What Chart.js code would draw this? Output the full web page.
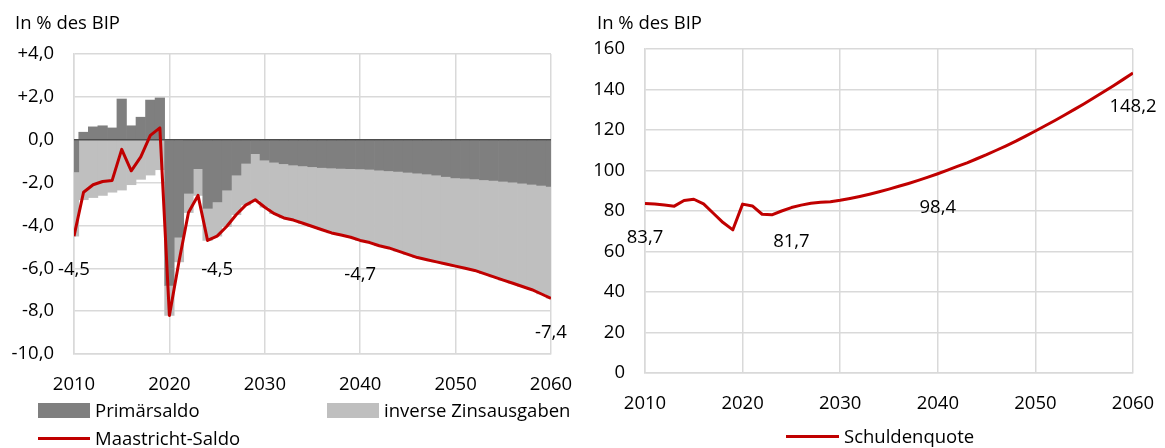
<!DOCTYPE html>
<html lang="de">
<head>
<meta charset="utf-8">
<title>Maastricht-Saldo und Schuldenquote</title>
<script src="https://cdn.jsdelivr.net/npm/chart.js@4.4.1/dist/chart.umd.min.js"></script>
<style>
  html, body { margin: 0; padding: 0; background: #fff; }
  body { width: 1165px; height: 448px; position: relative; overflow: hidden;
         font-family: 'Open Sans', sans-serif; font-size: 18.5px; color: #000; }
  canvas { position: absolute; top: 0; }
  #left-chart { left: 0; }
  #right-chart { left: 580px; }
  .chart-title { position: absolute; top: 13px; line-height: 1; white-space: nowrap; }
  .legend-item { position: absolute; display: flex; align-items: center; white-space: nowrap; line-height: 1; }
  .swatch { display: inline-block; width: 52px; margin-right: 5px; }
  .swatch.box { height: 15px; }
  .swatch.line { height: 3px; }
</style>
</head>
<body>
<canvas id="left-chart" width="580" height="448"></canvas>
<canvas id="right-chart" width="585" height="448"></canvas>

<div class="chart-title" style="left:15px">In % des BIP</div>
<div class="chart-title" style="left:597px">In % des BIP</div>

<div class="legend-item" style="left:38px; top:401px"><span class="swatch box" style="background:#7f7f7f"></span>Primärsaldo</div>
<div class="legend-item" style="left:327px; top:401px"><span class="swatch box" style="background:#bfbfbf"></span>inverse Zinsausgaben</div>
<div class="legend-item" style="left:38px; top:429px"><span class="swatch line" style="background:#c00000"></span>Maastricht-Saldo</div>
<div class="legend-item" style="left:786px; top:427px"><span class="swatch line" style="background:#c00000; width:53px"></span>Schuldenquote</div>

<script>
// --- Data ---
const years = [
  2010, 2011, 2012, 2013, 2014, 2015, 2016, 2017, 2018, 2019,
  2020, 2021, 2022, 2023, 2024, 2025, 2026, 2027, 2028, 2029,
  2030, 2031, 2032, 2033, 2034, 2035, 2036, 2037, 2038, 2039,
  2040, 2041, 2042, 2043, 2044, 2045, 2046, 2047, 2048, 2049,
  2050, 2051, 2052, 2053, 2054, 2055, 2056, 2057, 2058, 2059, 2060
]

// in % des BIP
const primaersaldo = [
  -1.5, 0.35, 0.6, 0.65, 0.55, 1.9, 0.65, 1.05, 1.85, 1.95,
  -6.8, -4.55, -2.5, -1.35, -3.2, -2.9, -2.35, -1.65, -1.1, -0.65,
  -0.95, -1.05, -1.12, -1.18, -1.22, -1.26, -1.3, -1.32, -1.34, -1.35,
  -1.36, -1.38, -1.42, -1.45, -1.48, -1.52, -1.56, -1.6, -1.65, -1.72,
  -1.78, -1.8, -1.83, -1.87, -1.9, -1.94, -1.98, -2.03, -2.08, -2.13, -2.18
]

const zinsausgaben = [
  -3.0, -2.8, -2.7, -2.6, -2.45, -2.35, -2.1, -1.85, -1.65, -1.4,
  -1.4, -1.15, -0.9, -1.25, -1.5, -1.6, -1.7, -1.85, -1.95, -2.15,
  -2.2, -2.4, -2.53, -2.57, -2.68, -2.79, -2.9, -3.03, -3.11, -3.2,
  -3.34, -3.42, -3.53, -3.6, -3.72, -3.83, -3.94, -4.0, -4.05, -4.08,
  -4.12, -4.2, -4.27, -4.38, -4.5, -4.61, -4.72, -4.82, -4.92, -5.07, -5.22
]

const maastrichtSaldo = [
  -4.5, -2.45, -2.1, -1.95, -1.9, -0.45, -1.45, -0.8, 0.2, 0.55,
  -8.2, -5.7, -3.4, -2.6, -4.7, -4.5, -4.05, -3.5, -3.05, -2.8,
  -3.15, -3.45, -3.65, -3.75, -3.9, -4.05, -4.2, -4.35, -4.45, -4.55,
  -4.7, -4.8, -4.95, -5.05, -5.2, -5.35, -5.5, -5.6, -5.7, -5.8,
  -5.9, -6.0, -6.1, -6.25, -6.4, -6.55, -6.7, -6.85, -7.0, -7.2, -7.4
]

const schuldenquote = [
  83.7, 83.5, 83.0, 82.4, 85.2, 85.8, 83.5, 78.9, 74.3, 70.7,
  83.4, 82.5, 78.4, 78.1, 80.0, 81.7, 82.9, 83.8, 84.3, 84.6,
  85.3, 86.2, 87.2, 88.3, 89.5, 90.8, 92.2, 93.6, 95.1, 96.7,
  98.4, 100.2, 102.0, 103.8, 105.8, 107.8, 110.0, 112.2, 114.5, 117.0,
  119.5, 122.1, 124.7, 127.4, 130.2, 133.0, 135.9, 138.9, 141.9, 145.0, 148.2
]

// years that carry a value label
const saldoLabelYears = [2010, 2025, 2040, 2060]
const quoteLabelYears = [2010, 2025, 2040, 2060]

// --- Helpers ---
const FONT = "'Open Sans', sans-serif"
const FONT_SIZE = 18.5
const GRID = '#d9d9d9'
const RED = '#c00000'

const toPoints = (vals) => years.map((yr, i) => ({ x: yr, y: vals[i] }))
const fmt = (v) => v.toFixed(1).replace('.', ',')

Chart.defaults.font.family = FONT
Chart.defaults.font.size = FONT_SIZE
Chart.defaults.color = '#000'

// value labels under selected points
const pointLabels = {
  id: 'pointLabels',
  afterDatasetsDraw(chart, args, opts) {
    const { ctx, scales } = chart
    const ds = chart.data.datasets[opts.dataset]
    ctx.save()
    ctx.font = `${FONT_SIZE}px ${FONT}`
    ctx.fillStyle = '#000'
    ctx.textAlign = 'center'
    ctx.textBaseline = 'middle'
    opts.years.forEach(yr => {
      const pt = ds.data.find(d => d.x === yr)
      if (!pt) return
      ctx.fillText(fmt(pt.y), scales.x.getPixelForValue(yr), scales.y.getPixelForValue(pt.y) + opts.offset)
    })
    ctx.restore()
  }
}

// dark axis line at 0, drawn between bars and the saldo line
const zeroLine = {
  id: 'zeroLine',
  beforeDatasetDraw(chart, args, opts) {
    if (args.index !== opts.beforeIndex) return
    const { ctx, chartArea, scales } = chart
    const y = scales.y.getPixelForValue(0)
    ctx.save()
    ctx.strokeStyle = opts.color
    ctx.lineWidth = opts.width
    ctx.beginPath()
    ctx.moveTo(chartArea.left, y)
    ctx.lineTo(chartArea.right, y)
    ctx.stroke()
    ctx.restore()
  }
}

// invisible tick marks give the label gap without widening the side padding
function xAxis() {
  return {
    type: 'linear',
    min: 2010,
    max: 2060,
    offset: false,
    stacked: true,
    grid: { color: GRID, lineWidth: 1.5, drawTicks: true, tickLength: 20, tickColor: 'rgba(0,0,0,0)', offset: false },
    border: { color: GRID, width: 1.5 },
    ticks: { stepSize: 10, autoSkip: false, maxRotation: 0, padding: 0, callback: v => String(v) },
    afterFit: s => { s.height = 40 }
  }
}

function yGrid() {
  return { color: GRID, lineWidth: 1.5, drawTicks: true, tickLength: 20, tickColor: 'rgba(0,0,0,0)' }
}

// --- Left: Finanzierungssaldo ---
new Chart(document.getElementById('left-chart'), {
  type: 'bar',
  data: {
    datasets: [
      {
        type: 'bar',
        label: 'Primärsaldo',
        data: toPoints(primaersaldo),
        backgroundColor: '#7f7f7f',
        borderWidth: 0,
        barPercentage: 1,
        categoryPercentage: 1,
        stack: 'saldo',
        clip: 0,
        order: 1
      },
      {
        type: 'bar',
        label: 'inverse Zinsausgaben',
        data: toPoints(zinsausgaben),
        backgroundColor: '#bfbfbf',
        borderWidth: 0,
        barPercentage: 1,
        categoryPercentage: 1,
        stack: 'saldo',
        clip: 0,
        order: 1
      },
      {
        type: 'line',
        label: 'Maastricht-Saldo',
        data: toPoints(maastrichtSaldo),
        borderColor: RED,
        backgroundColor: RED,
        borderWidth: 3,
        borderJoinStyle: 'round',
        pointRadius: 0,
        tension: 0,
        stack: 'line',
        order: 0
      }
    ]
  },
  options: {
    responsive: false,
    animation: false,
    layout: { padding: { left: 0, right: 29, top: 54, bottom: 54 } },
    plugins: {
      legend: { display: false },
      tooltip: { enabled: false },
      title: { display: false },
      pointLabels: { dataset: 2, years: saldoLabelYears, offset: 34 },
      zeroLine: { beforeIndex: 2, color: '#4d4d4d', width: 1.5 }
    },
    scales: {
      x: xAxis(),
      y: {
        min: -10,
        max: 4,
        stacked: true,
        grid: yGrid(),
        border: { color: GRID, width: 1.5 },
        ticks: {
          stepSize: 2,
          padding: 0,
          callback: v => (v > 0 ? '+' : '') + fmt(v)
        },
        afterFit: s => { s.width = 74 }
      }
    }
  },
  plugins: [pointLabels, zeroLine]
})

// --- Right: Schuldenquote ---
new Chart(document.getElementById('right-chart'), {
  type: 'line',
  data: {
    datasets: [
      {
        label: 'Schuldenquote',
        data: toPoints(schuldenquote),
        borderColor: RED,
        backgroundColor: RED,
        borderWidth: 3,
        borderJoinStyle: 'round',
        pointRadius: 0,
        tension: 0
      }
    ]
  },
  options: {
    responsive: false,
    animation: false,
    layout: { padding: { left: 0, right: 32, top: 49, bottom: 35 } },
    plugins: {
      legend: { display: false },
      tooltip: { enabled: false },
      title: { display: false },
      pointLabels: { dataset: 0, years: quoteLabelYears, offset: 34 }
    },
    scales: {
      x: xAxis(),
      y: {
        min: 0,
        max: 160,
        grid: yGrid(),
        border: { color: GRID, width: 1.5 },
        ticks: { stepSize: 20, padding: 0 },
        afterFit: s => { s.width = 65 }
      }
    }
  },
  plugins: [pointLabels]
})
</script>
</body>
</html>
